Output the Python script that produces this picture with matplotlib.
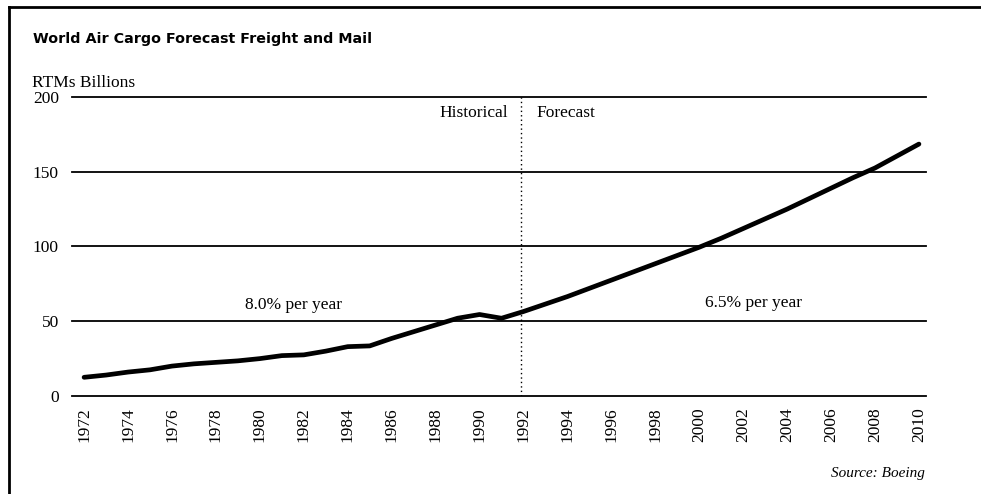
import matplotlib
matplotlib.use("Agg")
import matplotlib.pyplot as plt
from matplotlib.lines import Line2D

# RTMs (billions)
years = list(range(1972, 2011))
rtms = [12.5, 14, 16, 17.5, 20, 21.5, 22.5, 23.5, 25, 27,
        27.5, 30, 33, 33.5, 38.5, 43, 47.5, 52, 54.5, 52,
        56.5, 61.5, 66.5, 72, 77.5, 83, 88.5, 94, 99.5, 105.5,
        112, 118.5, 125, 132, 139, 146, 152.5, 160.5, 168.5]
xticks = list(range(1972, 2011, 2))
yticks = [0, 50, 100, 150, 200]
split_year = 1991.9

serif = "Liberation Serif"

fig = plt.figure(figsize=(9.81, 4.94), dpi=100)
ax = fig.add_axes([0.0734, 0.1984, 0.8705, 0.6053])

ax.plot(years, rtms, color="black", lw=3.4, solid_capstyle="round",
        solid_joinstyle="round", zorder=3)
ax.plot([split_year, split_year], [0, 200], color="black", lw=1,
        linestyle=(0, (1, 2.2)), zorder=2)

ax.set_xlim(1971.45, 2010.32)
ax.set_ylim(0, 200)
ax.set_xticks(xticks)
ax.set_xticklabels([str(y) for y in xticks], rotation=90, fontsize=12.5,
                   family=serif)
ax.set_yticks(yticks)
ax.set_yticklabels([str(v) for v in yticks], fontsize=12.5, family=serif)
ax.tick_params(axis="both", length=0)
ax.tick_params(axis="x", pad=8)
ax.tick_params(axis="y", pad=9.5)
for s in ax.spines.values():
    s.set_visible(False)
for v in yticks:
    ax.axhline(v, color="black", lw=1.3, zorder=1, clip_on=False)

ax.text(1991.3, 189, "Historical", ha="right", va="center", fontsize=12.5,
        family=serif)
ax.text(1992.6, 189, "Forecast", ha="left", va="center", fontsize=12.5,
        family=serif)
ax.text(1981.55, 61, "8.0% per year", ha="center", va="center",
        fontsize=12.5, family=serif)
ax.text(2002.45, 62, "6.5% per year", ha="center", va="center",
        fontsize=12.5, family=serif)

fig.text(33 / 981, 1 - 39 / 494, "World Air Cargo Forecast Freight and Mail",
         ha="left", va="center", fontsize=10.3, fontweight="heavy",
         family="DejaVu Sans")
fig.text(32 / 981, 1 - 83 / 494, "RTMs Billions", ha="left", va="center",
         fontsize=12.5, family=serif)
fig.text(925 / 981, 1 - 473 / 494, "Source: Boeing", ha="right",
         va="center", fontsize=11, style="italic", family=serif)

# frame of the scanned figure (top and left edges)
fig.add_artist(Line2D([9 / 981, 1], [1 - 7 / 494, 1 - 7 / 494],
                      color="black", lw=2, transform=fig.transFigure))
fig.add_artist(Line2D([9 / 981, 9 / 981], [0, 1 - 7 / 494],
                      color="black", lw=2, transform=fig.transFigure))

fig.savefig("out.png", dpi=100)
